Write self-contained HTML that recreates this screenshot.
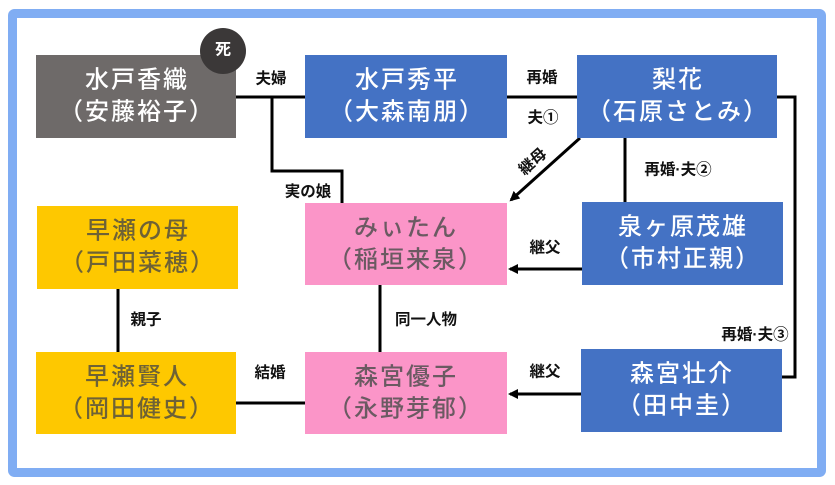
<!DOCTYPE html>
<html><head><meta charset="utf-8">
<style>
html,body{margin:0;padding:0;background:#fff;}
body{width:835px;height:485px;overflow:hidden;}
svg{display:block;}
.bt{font-family:"Liberation Sans","Noto Sans CJK JP",sans-serif;font-size:24px;font-weight:500;letter-spacing:2px;text-anchor:middle;dominant-baseline:central;}
.lb{font-family:"Liberation Sans","Noto Sans CJK JP",sans-serif;font-size:15.5px;font-weight:bold;fill:#111;text-anchor:middle;dominant-baseline:central;}
</style></head>
<body>
<svg width="835" height="485" viewBox="0 0 835 485" xmlns="http://www.w3.org/2000/svg">
<defs>
<marker id="ah" markerWidth="10" markerHeight="10" refX="8" refY="5" orient="auto" markerUnits="userSpaceOnUse">
<path d="M0,0 L10,5 L0,10 Z" fill="#000"/>
</marker>
</defs>
<rect x="0" y="0" width="835" height="485" fill="#fff"/>
<rect x="12.5" y="13.5" width="809" height="459" fill="#fff" stroke="#80adf3" stroke-width="9" rx="2"/>

<!-- connectors -->
<g stroke="#000" stroke-width="3" fill="none">
<line x1="236" y1="97" x2="305" y2="97"/>
<polyline points="272,97 272,171 342,171 342,203"/>
<line x1="507" y1="97" x2="577" y2="97"/>
<polyline points="777,97 795,97 795,377 782,377"/>
<line x1="580" y1="138" x2="511" y2="200" marker-end="url(#ah)"/>
<line x1="625" y1="138" x2="625" y2="202"/>
<line x1="582" y1="269" x2="510" y2="269" marker-end="url(#ah)"/>
<line x1="380" y1="285" x2="380" y2="352"/>
<line x1="581" y1="394" x2="510" y2="394" marker-end="url(#ah)"/>
<line x1="118" y1="289" x2="118" y2="352"/>
<line x1="236" y1="403" x2="305" y2="403"/>
</g>

<!-- boxes -->
<rect x="36" y="55" width="200" height="83" fill="#6e6a69"/>
<rect x="305" y="55" width="202" height="83" fill="#4472c4"/>
<rect x="577" y="55" width="200" height="83" fill="#4472c4"/>
<rect x="37" y="206" width="201" height="83" fill="#fec800"/>
<rect x="305" y="203" width="202" height="82" fill="#fb95c8"/>
<rect x="582" y="202" width="201" height="83" fill="#4472c4"/>
<rect x="36" y="352" width="200" height="82" fill="#fec800"/>
<rect x="305" y="352" width="202" height="82" fill="#fb95c8"/>
<rect x="581" y="349" width="201" height="83" fill="#4472c4"/>

<!-- death badge -->
<circle cx="223" cy="51" r="23" fill="#3b3838"/>
<text x="223" y="50" fill="#fff" style="font-family:'Liberation Sans','Noto Sans CJK JP',sans-serif;font-size:16px;font-weight:bold;text-anchor:middle;dominant-baseline:central;">死</text>

<!-- box texts -->
<text class="bt" x="137" y="80" fill="#fff">水戸香織</text>
<text class="bt" x="137" y="112" fill="#fff">（安藤裕子）</text>
<text class="bt" x="407" y="80" fill="#fff">水戸秀平</text>
<text class="bt" x="407" y="112" fill="#fff">（大森南朋）</text>
<text class="bt" x="678" y="80" fill="#fff">梨花</text>
<text class="bt" x="678" y="112" fill="#fff">（石原さとみ）</text>
<text class="bt" x="683" y="227" fill="#fff">泉ヶ原茂雄</text>
<text class="bt" x="683" y="259" fill="#fff">（市村正親）</text>
<text class="bt" x="682" y="374" fill="#fff">森宮壮介</text>
<text class="bt" x="682" y="406" fill="#fff">（田中圭）</text>
<text class="bt" x="138" y="231" fill="#6e6236">早瀬の母</text>
<text class="bt" x="138" y="263" fill="#6e6236">（戸田菜穂）</text>
<text class="bt" x="137" y="377" fill="#6e6236">早瀬賢人</text>
<text class="bt" x="137" y="409" fill="#6e6236">（岡田健史）</text>
<text class="bt" x="406" y="228" fill="#6b5a62">みぃたん</text>
<text class="bt" x="406" y="260" fill="#6b5a62">（稲垣来泉）</text>
<text class="bt" x="406" y="377" fill="#6b5a62">森宮優子</text>
<text class="bt" x="406" y="409" fill="#6b5a62">（永野芽郁）</text>

<!-- labels -->
<text class="lb" x="271" y="79">夫婦</text>
<text class="lb" x="308" y="192">実の娘</text>
<text class="lb" x="542" y="78">再婚</text>
<text class="lb" x="543" y="118">夫①</text>
<text class="lb" x="533" y="162" transform="rotate(-42 533 162)">継母</text>
<text class="lb" x="678" y="170">再婚·夫②</text>
<text class="lb" x="545" y="248">継父</text>
<text class="lb" x="426" y="320">同一人物</text>
<text class="lb" x="146" y="320">親子</text>
<text class="lb" x="755" y="335">再婚·夫③</text>
<text class="lb" x="545" y="372">継父</text>
<text class="lb" x="270" y="373">結婚</text>
</svg>
</body></html>
